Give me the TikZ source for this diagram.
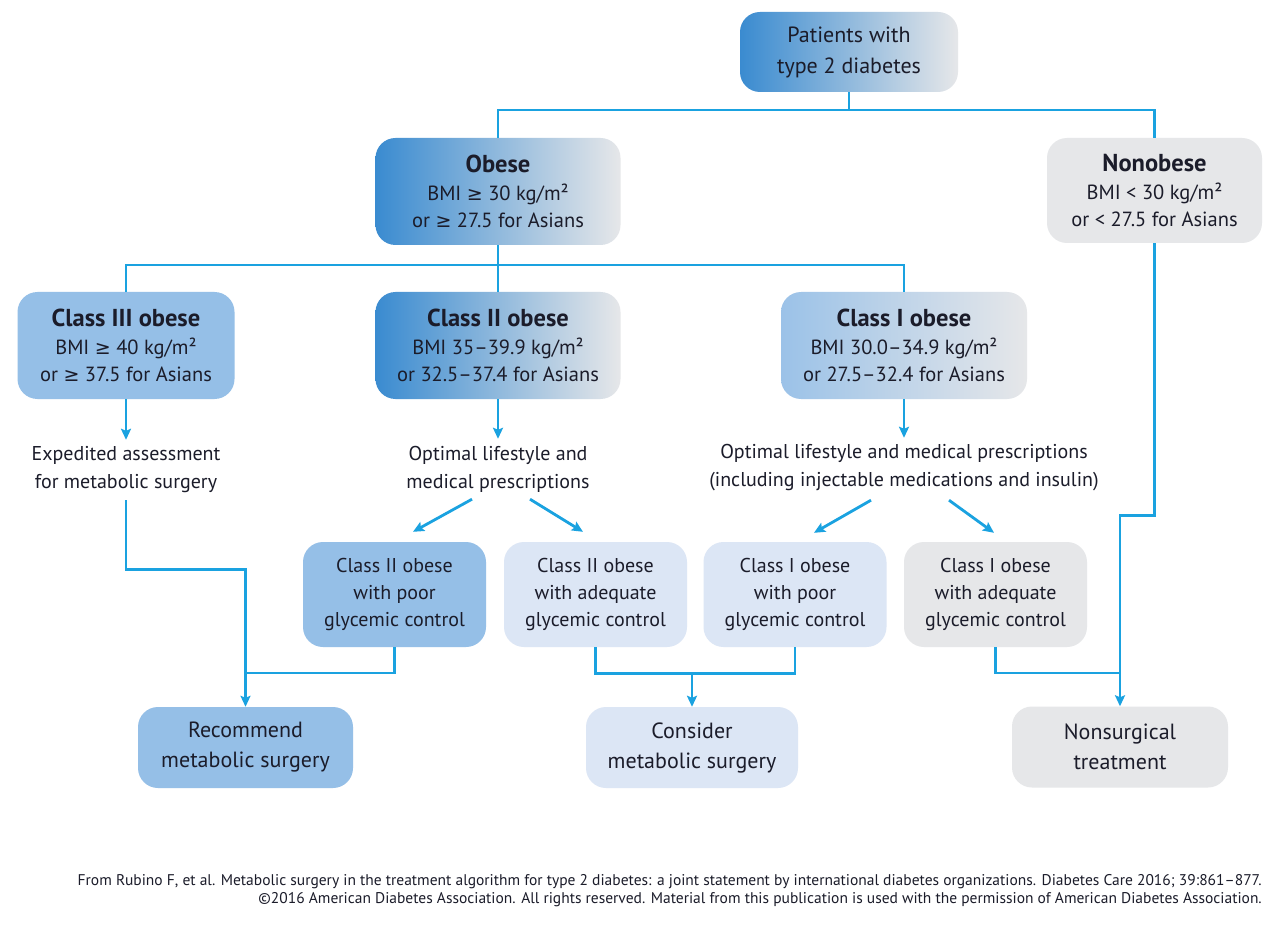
\documentclass[tikz,border=0pt]{standalone}
\usepackage{fontspec}
\setmainfont{PT Sans}
\newfontfamily\symf{DejaVu Sans}
\usetikzlibrary{arrows.meta,calc}
\definecolor{lineblue}{HTML}{1AA2E0}
\definecolor{txt}{HTML}{1B1C2A}
\definecolor{midblue}{HTML}{95BFE7}
\definecolor{lightblue}{HTML}{DCE6F5}
\definecolor{greybox}{HTML}{E6E7E9}
\definecolor{gradL}{HTML}{3A8BD0}
\definecolor{gradM}{HTML}{BFD0E6}
\definecolor{gradLa}{HTML}{9BC2E8}
\definecolor{gradMa}{HTML}{CCD9EA}
\newcommand{\gsym}{{\symf\fontsize{19}{27}\selectfont ≥}}
\newcommand{\ttlfont}{\bfseries\fontsize{24.5}{27}\selectfont}
\tikzset{
  x=1pt, y=-1pt,
  boxbase/.style={rounded corners=20pt, inner sep=0pt, align=center, text=txt, draw=none},
  gradbox/.style={boxbase, left color=gradL, middle color=gradM, right color=greybox},
  gradboxlight/.style={boxbase, left color=gradLa, middle color=gradMa, right color=greybox},
  midbox/.style={boxbase, fill=midblue},
  lightbox/.style={boxbase, fill=lightblue},
  greyb/.style={boxbase, fill=greybox},
  bigbox/.style={minimum width=#1, minimum height=107pt, font=\fontsize{20.5}{27.5}\selectfont},
  smallbox/.style={minimum width=183pt, minimum height=105pt, font=\fontsize{20}{27}\selectfont},
  endbox/.style={minimum width=#1, minimum height=81pt, font=\fontsize{22}{30}\selectfont},
  plain/.style={inner sep=0pt, align=center, text=txt, minimum height=60pt, font=\fontsize{20}{28}\selectfont},
  conn/.style={draw=lineblue, line width=2.8pt},
  arr/.style={conn, -{Stealth[length=11pt, width=10pt, inset=2pt]}},
}
\begin{document}
\begin{tikzpicture}
\useasboundingbox (0,0) rectangle (1280,925);
\fill[white] (0,0) rectangle (1280,925);

% level 0
\node[gradbox, minimum width=218pt, minimum height=80pt, font=\fontsize{22}{31}\selectfont] (top) at (849,52) {Patients with\\type 2 diabetes};

% level 1
\node[gradbox, bigbox=245pt] (obese) at (498,191.5)
  {{\ttlfont Obese}\\BMI \gsym{} 30 kg/m²\\or \gsym{} 27.5 for Asians};
\node[greyb, bigbox=215pt, minimum height=105pt] (nonobese) at (1154.5,190.5)
  {{\ttlfont Nonobese}\\BMI < 30 kg/m²\\or < 27.5 for Asians};

% level 2
\node[midbox, bigbox=217pt] (c3) at (126,345.5)
  {{\ttlfont Class III obese}\\BMI \gsym{} 40 kg/m²\\or \gsym{} 37.5 for Asians};
\node[gradbox, bigbox=245pt] (c2) at (498,345.5)
  {{\ttlfont Class II obese}\\BMI 35–39.9 kg/m²\\or 32.5–37.4 for Asians};
\node[gradboxlight, bigbox=246pt] (c1) at (904,345.5)
  {{\ttlfont Class I obese}\\BMI 30.0–34.9 kg/m²\\or 27.5–32.4 for Asians};

% text steps
\node[plain] (t3) at (126,470) {Expedited assessment\\for metabolic surgery};
\node[plain] (t2) at (498,469) {Optimal lifestyle and\\medical prescriptions};
\node[plain] (t1) at (904,468) {Optimal lifestyle and medical prescriptions\\(including injectable medications and insulin)};

% level 3
\node[midbox, smallbox] (c2p) at (394.5,594.5) {Class II obese\\with poor\\glycemic control};
\node[lightbox, smallbox] (c2a) at (595.5,594.5) {Class II obese\\with adequate\\glycemic control};
\node[lightbox, smallbox] (c1p) at (795,594.5) {Class I obese\\with poor\\glycemic control};
\node[greyb, smallbox] (c1a) at (995.5,594.5) {Class I obese\\with adequate\\glycemic control};

% outcomes
\node[midbox, endbox=215pt] (rec) at (245.5,747.5) {Recommend\\metabolic surgery};
\node[lightbox, endbox=212pt] (con) at (692,747.5) {Consider\\metabolic surgery};
\node[greyb, endbox=216pt] (non) at (1120,747) {Nonsurgical\\treatment};

% junction coordinates
\coordinate (j1) at (849,110);
\coordinate (j2) at (498,265);
\coordinate (m1) at (245.5,673);
\coordinate (m2) at (692,673);
\coordinate (m3) at (1120,673);

% connectors
\draw[conn] (top.south) -- (j1);
\draw[conn] (obese.north) |- (j1) -| (nonobese.north);
\draw[conn] (obese.south) -- (c2.north);
\draw[conn] (c3.north) |- (j2) -| (c1.north);

\draw[arr] (c3.south) -- (t3.north);
\draw[arr] (c2.south) -- (t2.north);
\draw[arr] (c1.south) -- (t1.north);

\draw[arr] ([xshift=-26pt]t2.south) -- ([xshift=18.5pt, yshift=10pt]c2p.north);
\draw[arr] ([xshift=32pt]t2.south) -- ([xshift=-12.5pt, yshift=10pt]c2a.north);
\draw[arr] ([xshift=-33pt, yshift=-2pt]t1.south) -- ([xshift=19pt, yshift=9pt]c1p.north);
\draw[arr] ([xshift=45pt, yshift=-2pt]t1.south) -- ([xshift=-1.5pt, yshift=9pt]c1a.north);

\draw[arr] (t3.south) -- ++(0,69) -| (rec.north);
\draw[conn] (c2p.south) |- (m1);
\draw[conn] (c2a.south) -- ++(0,26) -| (c1p.south);
\draw[arr] (m2) -- (con.north);
\draw[conn] (c1a.south) |- (m3);
\draw[arr] (nonobese.south) -- ++(0,272) -| (non.north);

% footer
\node[anchor=north east, inner sep=0pt, align=right, text=txt, font=\fontsize{15.5}{18.5}\selectfont] (footer) at (1262,874)
  {From Rubino F, et al. Metabolic surgery in the treatment algorithm for type 2 diabetes: a joint statement by international diabetes organizations. Diabetes Care 2016; 39:861–877.\\
   ©2016 American Diabetes Association. All rights reserved. Material from this publication is used with the permission of American Diabetes Association.};
\end{tikzpicture}
\end{document}
